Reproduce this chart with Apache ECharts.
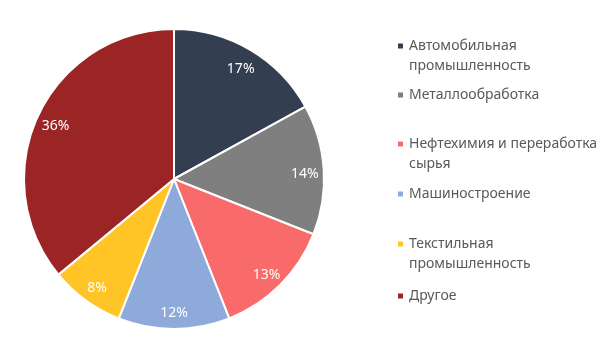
<!DOCTYPE html>
<html>
<head>
<meta charset="utf-8">
<script src="https://cdn.jsdelivr.net/npm/echarts@6/dist/echarts.min.js"></script>
<style>
  html, body { margin: 0; padding: 0; background: #fff; }
  #chart { width: 600px; height: 352px; }
</style>
</head>
<body>
<div id="chart"></div>
<script>
// данные
const categories = [
  'Автомобильная\nпромышленность',
  'Металлообработка',
  'Нефтехимия и переработка\nсырья',
  'Машиностроение',
  'Текстильная\nпромышленность',
  'Другое'
]
const shares = [17, 14, 13, 12, 8, 36]
const colors = ['#333f50', '#7f7f7f', '#f96b6b', '#8eaadb', '#ffc527', '#9b2425']

// first-line centre of each legend entry, px
const legendY = [45, 94, 143, 193, 243, 295]

const font = '"Noto Sans", sans-serif'
const lineH = 20

let myChart = echarts.init(document.getElementById('chart'))

let pieData = categories.map((name, i) => ({
  name: name,
  value: shares[i],
  itemStyle: { color: colors[i] }
}))

let legends = categories.map((name, i) => {
  let twoLines = name.indexOf('\n') >= 0
  return {
    data: [name],
    orient: 'vertical',
    left: 396,
    top: legendY[i] - 6,
    padding: 0,
    icon: 'rect',
    itemWidth: 7,
    itemHeight: 7,
    itemGap: 0,
    selectedMode: false,
    // rich text so that the top padding pushes the 2nd line down
    formatter: n => n.split('\n').map(s => '{t|' + s + '}').join('\n'),
    textStyle: {
      padding: twoLines ? [lineH, 0, 0, 0] : 0,
      rich: {
        t: {
          color: '#595959',
          fontFamily: font,
          fontSize: 14,
          lineHeight: lineH
        }
      }
    }
  }
})

myChart.setOption({
  backgroundColor: '#ffffff',
  animation: false,
  legend: legends,
  series: [
    {
      name: 'main',
      type: 'pie',
      center: [174, 179],
      radius: [0, 150],
      startAngle: 90,
      clockwise: true,
      data: pieData,
      itemStyle: {
        borderColor: '#ffffff',
        borderWidth: 2
      },
      label: { show: false },
      labelLine: { show: false },
      emphasis: { disabled: true }
    },
    {
      // invisible ring only for label placement
      name: 'labels',
      type: 'pie',
      center: [174, 179],
      radius: [106, 150],
      startAngle: 90,
      clockwise: true,
      silent: true,
      data: categories.map((name, i) => ({ name: name, value: shares[i] })),
      itemStyle: { color: 'rgba(0,0,0,0)' },
      label: {
        show: true,
        position: 'inside',
        formatter: '{c}%',
        color: '#ffffff',
        fontFamily: font,
        fontSize: 14,
        offset: [0, 3]
      },
      labelLine: { show: false },
      emphasis: { disabled: true }
    }
  ]
})
</script>
</body>
</html>
